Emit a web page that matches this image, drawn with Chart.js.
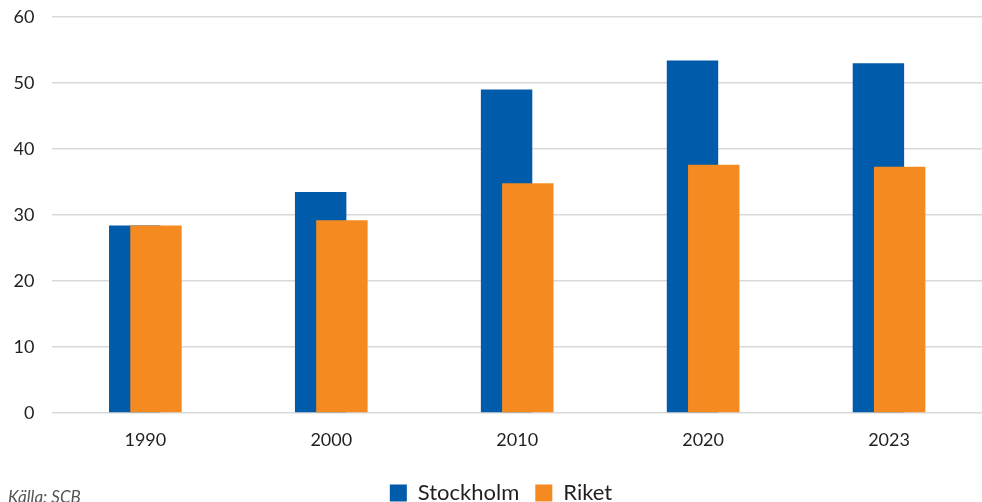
<!DOCTYPE html>
<html>
<head>
<meta charset="utf-8">
<script src="https://cdn.jsdelivr.net/npm/chart.js@4/dist/chart.umd.min.js"></script>
<style>
  html, body { margin: 0; padding: 0; background: #fff; overflow: hidden; }
  #wrap { width: 982px; height: 502px; }
</style>
</head>
<body>
<div id="wrap"><canvas id="grafico"></canvas></div>
<script>
const years = ['1990', '2000', '2010', '2020', '2023'];
const stockholm = [28.4, 33.5, 49.0, 53.4, 53.0];
const riket = [28.4, 29.2, 34.8, 37.6, 37.3];
const yTicks = [0, 10, 20, 30, 40, 50, 60];
const sourceText = 'Källa: SCB';

const fuente = 'Lato, "Open Sans", sans-serif';
const colorTexto = '#231f20';

// texto de fuente abajo a la izquierda
const kallaPlugin = {
    id: 'kalla',
    afterDraw(chart) {
        const ctx = chart.ctx;
        ctx.save();
        ctx.font = 'italic 17px ' + fuente;
        ctx.fillStyle = '#555555';
        ctx.textBaseline = 'alphabetic';
        ctx.fillText(sourceText, 8, 503);
        ctx.restore();
    }
};

// dibujar Stockholm primero y Riket encima
const ordenPlugin = {
    id: 'orden',
    beforeDatasetsDraw(chart) {
        const ctx = chart.ctx;
        const a = chart.chartArea;
        ctx.save();
        ctx.beginPath();
        ctx.rect(a.left, a.top - 2, a.right - a.left, a.bottom - a.top + 4);
        ctx.clip();
        [0, 1].forEach(i => chart.getDatasetMeta(i).controller.draw());
        ctx.restore();
        return false;
    }
};

const ctx = document.getElementById('grafico').getContext('2d');

new Chart(ctx, {
    type: 'bar',
    data: {
        labels: years,
        datasets: [{
            label: 'Stockholm',
            data: stockholm,
            backgroundColor: '#005BAA',
            borderWidth: 0,
            categoryPercentage: 0.2286,
            barPercentage: 2.42
        }, {
            label: 'Riket',
            data: riket,
            backgroundColor: '#F58B20',
            borderWidth: 0,
            categoryPercentage: 0.2286,
            barPercentage: 2.42
        }]
    },
    options: {
        responsive: true,
        maintainAspectRatio: false,
        animation: false,
        layout: {
            padding: { top: 17, right: -11, bottom: -12, left: 9 }
        },
        scales: {
            x: {
                grid: { display: false, drawTicks: false },
                border: { display: false },
                ticks: {
                    color: colorTexto,
                    font: { family: fuente, size: 18 },
                    padding: 16
                },
                afterFit(scale) { scale.height = 53; }
            },
            y: {
                min: 0,
                max: 60,
                afterBuildTicks(scale) {
                    scale.ticks = yTicks.map(v => ({ value: v }));
                },
                grid: { color: '#d9d9d9', lineWidth: 1.5, drawTicks: false },
                border: { display: false },
                ticks: {
                    color: colorTexto,
                    font: { family: fuente, size: 18 },
                    padding: 18
                },
                afterFit(scale) {
                    scale.width = 43.4;
                    scale.paddingTop = 0;
                    scale.paddingBottom = 0;
                }
            }
        },
        plugins: {
            legend: {
                position: 'bottom',
                labels: {
                    boxWidth: 17,
                    boxHeight: 17,
                    padding: 16,
                    color: colorTexto,
                    font: { family: fuente, size: 22 }
                }
            },
            tooltip: { enabled: false }
        }
    },
    plugins: [kallaPlugin, ordenPlugin]
});
</script>
</body>
</html>
